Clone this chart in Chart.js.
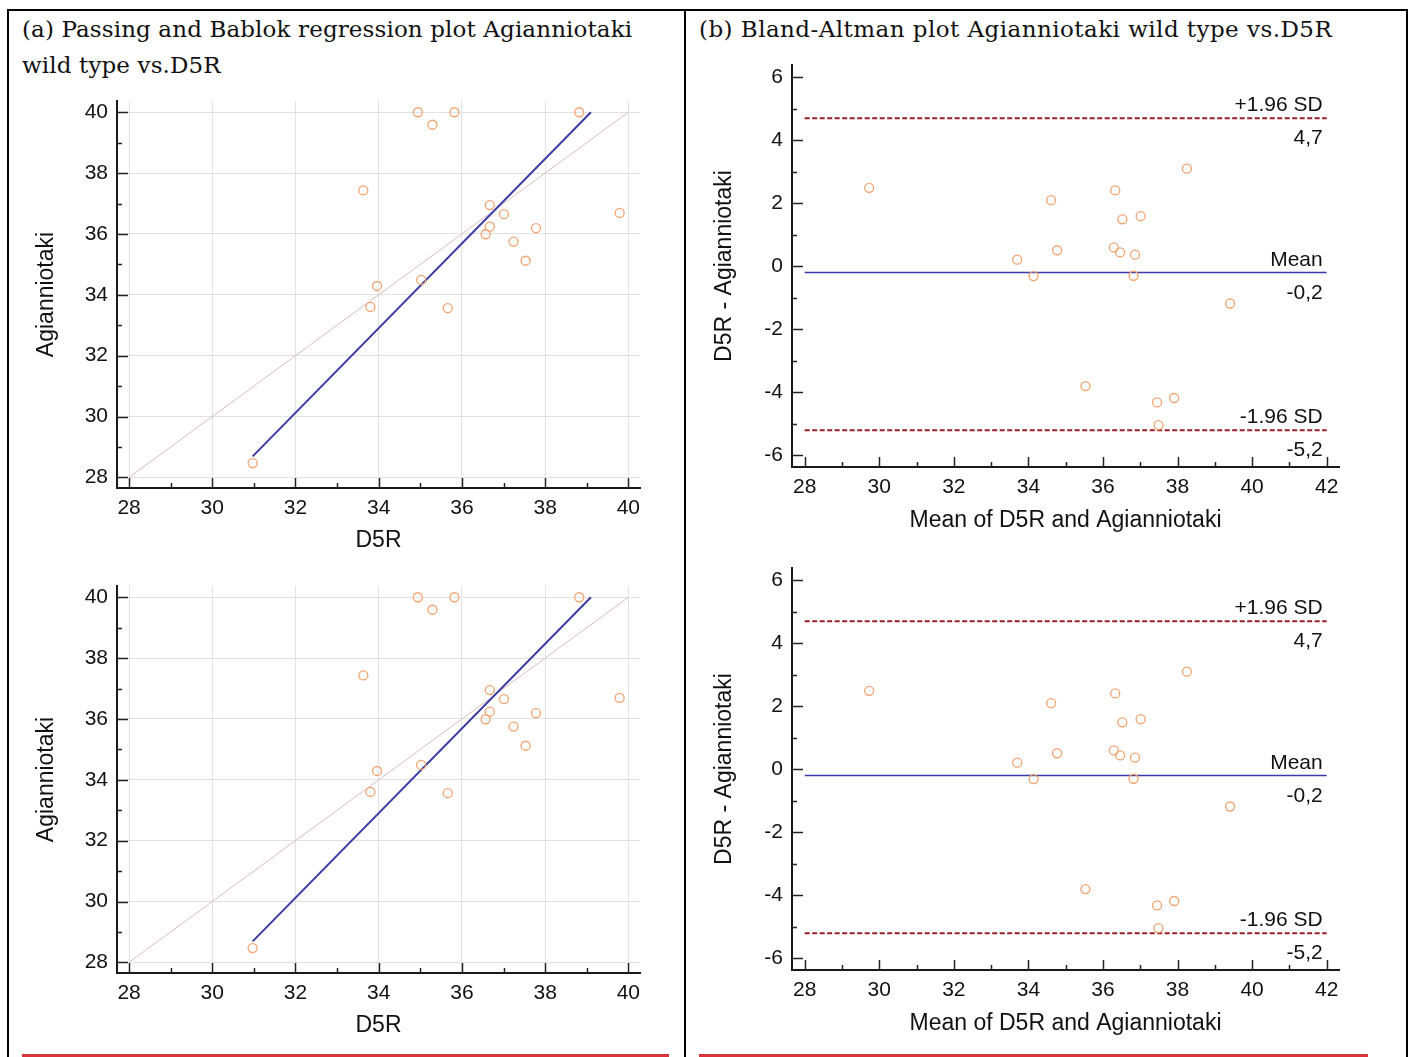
<!DOCTYPE html>
<html>
<head>
<meta charset="utf-8">
<script src="https://cdn.jsdelivr.net/npm/chart.js@4.4.1/dist/chart.umd.min.js"></script>
<style>
body { margin: 0; background: #fff; width: 1413px; height: 1057px; overflow: hidden; position: relative; }
.rule { position: absolute; background: #000; }
.title { position: absolute; font-family: "DejaVu Serif", serif; font-size: 23px; line-height: 36px; color: #111; white-space: nowrap; }
.box { position: absolute; }
.red { position: absolute; height: 3px; background: #d8333b; }
</style>
</head>
<body>
<div class="rule" style="left:7px; top:9px; width:1401px; height:2px;"></div>
<div class="rule" style="left:7px; top:9px; width:2px; height:1048px;"></div>
<div class="rule" style="left:684px; top:9px; width:2px; height:1048px;"></div>
<div class="rule" style="left:1406px; top:9px; width:2px; height:1048px;"></div>

<div class="title" style="left:22px; top:11px; letter-spacing:0.12px;">(a) Passing and Bablok regression plot Agianniotaki<br>wild type vs.D5R</div>
<div class="title" style="left:699px; top:11px; letter-spacing:0.45px;">(b) Bland-Altman plot Agianniotaki wild type vs.D5R</div>

<div class="box" style="left:20px; top:90px;"><canvas id="pb1" width="650" height="470"></canvas></div>
<div class="box" style="left:20px; top:575px;"><canvas id="pb2" width="650" height="470"></canvas></div>
<div class="box" style="left:695px; top:55px;"><canvas id="ba1" width="685" height="485"></canvas></div>
<div class="box" style="left:695px; top:558px;"><canvas id="ba2" width="685" height="485"></canvas></div>

<div class="red" style="left:22px; top:1054px; width:647px;"></div>
<div class="red" style="left:699px; top:1054px; width:669px;"></div>

<script>
// values
const d5r = [34.94, 35.29, 35.82, 38.82, 33.63, 36.67, 37.01, 36.67, 36.57, 37.78, 37.24, 37.53, 39.79, 33.96, 33.80, 35.02, 35.66, 30.97];
const agianniotaki = [40.0, 39.59, 40.0, 40.0, 37.43, 36.95, 36.65, 36.24, 35.99, 36.19, 35.75, 35.12, 36.69, 34.29, 33.60, 34.49, 33.56, 28.47];
const identityLine = [[28, 28], [40, 40]];
const regressionLine = [[30.97, 28.69], [39.10, 40.0]];
const pbTicks = [28, 29, 30, 31, 32, 33, 34, 35, 36, 37, 38, 39, 40];

const baMean = [29.73, 33.70, 34.14, 34.61, 34.77, 35.53, 36.33, 36.29, 36.46, 36.52, 37.01, 36.86, 36.82, 37.45, 37.49, 37.91, 38.25, 39.41];
const baDiff = [2.49, 0.21, -0.31, 2.10, 0.51, -3.80, 2.41, 0.60, 0.44, 1.49, 1.59, 0.37, -0.30, -4.32, -5.04, -4.18, 3.10, -1.18];
const baXTicks = [28, 29, 30, 31, 32, 33, 34, 35, 36, 37, 38, 39, 40, 41, 42];
const baYTicks = [-6, -5, -4, -3, -2, -1, 0, 1, 2, 3, 4, 5, 6];
const limitValues = [4.7, -0.2, -5.2];
const limitNames = ['+1.96 SD', 'Mean', '-1.96 SD'];
const limitTexts = ['4,7', '-0,2', '-5,2'];
const limitStart = 28, limitEnd = 42;

const sans = 'Liberation Sans, Arial, sans-serif';
const pointColor = '#f5a36f';

function toXY(xs, ys) {
	return xs.map(function(x, i) { return {x: x, y: ys[i]}; });
}
function pairs(list) {
	return list.map(function(p) { return {x: p[0], y: p[1]}; });
}
function evenLabel(v) {
	return v % 2 === 0 ? String(v) : '';
}

// short tick marks pointing into the plot, long ones on even values
const innerTicks = {
	id: 'innerTicks',
	afterDraw: function(chart) {
		const ctx = chart.ctx;
		const xs = chart.scales.x, ys = chart.scales.y;
		ctx.save();
		ctx.strokeStyle = '#222';
		ctx.lineWidth = 1.5;
		xs.ticks.forEach(function(t) {
			const px = Math.round(xs.getPixelForValue(t.value)) + 0.5;
			const len = t.value % 2 === 0 ? 10 : 5;
			ctx.beginPath();
			ctx.moveTo(px, xs.top);
			ctx.lineTo(px, xs.top - len);
			ctx.stroke();
		});
		ys.ticks.forEach(function(t) {
			const py = Math.round(ys.getPixelForValue(t.value)) + 0.5;
			const len = t.value % 2 === 0 ? 11 : 5;
			ctx.beginPath();
			ctx.moveTo(ys.right, py);
			ctx.lineTo(ys.right + len, py);
			ctx.stroke();
		});
		ctx.restore();
	}
};

// the +1.96 SD / Mean / -1.96 SD captions
const limitLabels = {
	id: 'limitLabels',
	afterDatasetsDraw: function(chart) {
		if (chart.config.options.plugins.limitLabels === false) return;
		const ctx = chart.ctx;
		const xs = chart.scales.x, ys = chart.scales.y;
		const right = xs.getPixelForValue(limitEnd) - 4;
		ctx.save();
		ctx.font = '21px ' + sans;
		ctx.fillStyle = '#111';
		ctx.textAlign = 'right';
		ctx.textBaseline = 'alphabetic';
		limitValues.forEach(function(v, i) {
			const py = ys.getPixelForValue(v);
			ctx.fillText(limitNames[i], right, py - 7);
			ctx.fillText(limitTexts[i], right, py + 26);
		});
		ctx.restore();
	}
};

function axis(min, max, ticks, title, isX, gridOn, size, titlePad) {
	return {
		type: 'linear',
		min: min,
		max: max,
		afterBuildTicks: function(scale) {
			scale.ticks = ticks.map(function(v) { return {value: v}; });
		},
		afterFit: function(scale) {
			if (isX) scale.height = size; else scale.width = size;
			// keep tick labels from pushing the plot area around
			scale.paddingTop = 0;
			scale.paddingBottom = 0;
			scale.paddingLeft = 0;
			scale.paddingRight = 0;
		},
		ticks: {
			autoSkip: false,
			maxRotation: 0,
			padding: isX ? 8 : 9,
			color: '#111',
			font: {family: sans, size: 21},
			callback: evenLabel
		},
		grid: {
			display: gridOn,
			drawTicks: false,
			lineWidth: 1,
			color: function(c) {
				return c.tick && c.tick.value % 2 === 0 ? '#e2e2e2' : 'rgba(0,0,0,0)';
			}
		},
		border: {display: true, color: '#1a1a1a', width: 2},
		title: {
			display: true,
			text: title,
			color: '#111',
			font: {family: sans, size: 23},
			padding: isX ? {top: 0, bottom: titlePad} : {top: titlePad, bottom: 0}
		}
	};
}

function passingBablok(id) {
	new Chart(document.getElementById(id), {
		type: 'scatter',
		data: {
			datasets: [
				{
					data: toXY(d5r, agianniotaki),
					pointRadius: 4.5,
					pointBorderWidth: 1.3,
					borderColor: pointColor,
					backgroundColor: 'rgba(0,0,0,0)',
					order: 0
				},
				{
					data: pairs(regressionLine),
					showLine: true,
					pointRadius: 0,
					borderColor: '#3b3ba6',
					borderWidth: 2,
					order: 1
				},
				{
					data: pairs(identityLine),
					showLine: true,
					pointRadius: 0,
					borderColor: '#dcbcbc',
					borderWidth: 1,
					order: 2
				}
			]
		},
		options: {
			responsive: false,
			animation: false,
			layout: {padding: {left: 0, top: 11, right: 30, bottom: 0}},
			plugins: {legend: {display: false}, tooltip: {enabled: false}, limitLabels: false},
			scales: {
				x: axis(27.71, 40.28, pbTicks, 'D5R', true, true, 72, 6),
				y: axis(27.65, 40.37, pbTicks, 'Agianniotaki', false, true, 97, 13)
			}
		},
		plugins: [innerTicks]
	});
}

function blandAltman(id) {
	const sets = [{
		data: toXY(baMean, baDiff),
		pointRadius: 4.5,
		pointBorderWidth: 1.3,
		borderColor: pointColor,
		backgroundColor: 'rgba(0,0,0,0)',
		order: 0
	}];
	limitValues.forEach(function(v, i) {
		const isMean = limitNames[i] === 'Mean';
		sets.push({
			data: [{x: limitStart, y: v}, {x: limitEnd, y: v}],
			showLine: true,
			pointRadius: 0,
			borderColor: isMean ? '#3b3ba6' : '#9a1f24',
			borderWidth: isMean ? 1.5 : 2,
			borderDash: isMean ? [] : [5, 2.5],
			order: 1
		});
	});
	new Chart(document.getElementById(id), {
		type: 'scatter',
		data: {datasets: sets},
		options: {
			responsive: false,
			animation: false,
			layout: {padding: {left: 0, top: 10, right: 41, bottom: 0}},
			plugins: {legend: {display: false}, tooltip: {enabled: false}},
			scales: {
				x: axis(27.66, 42.33, baXTicks, 'Mean of D5R and Agianniotaki', true, false, 73, 6),
				y: axis(-6.37, 6.39, baYTicks, 'D5R - Agianniotaki', false, false, 97, 16)
			}
		},
		plugins: [innerTicks, limitLabels]
	});
}

passingBablok('pb1');
passingBablok('pb2');
blandAltman('ba1');
blandAltman('ba2');
</script>
</body>
</html>
